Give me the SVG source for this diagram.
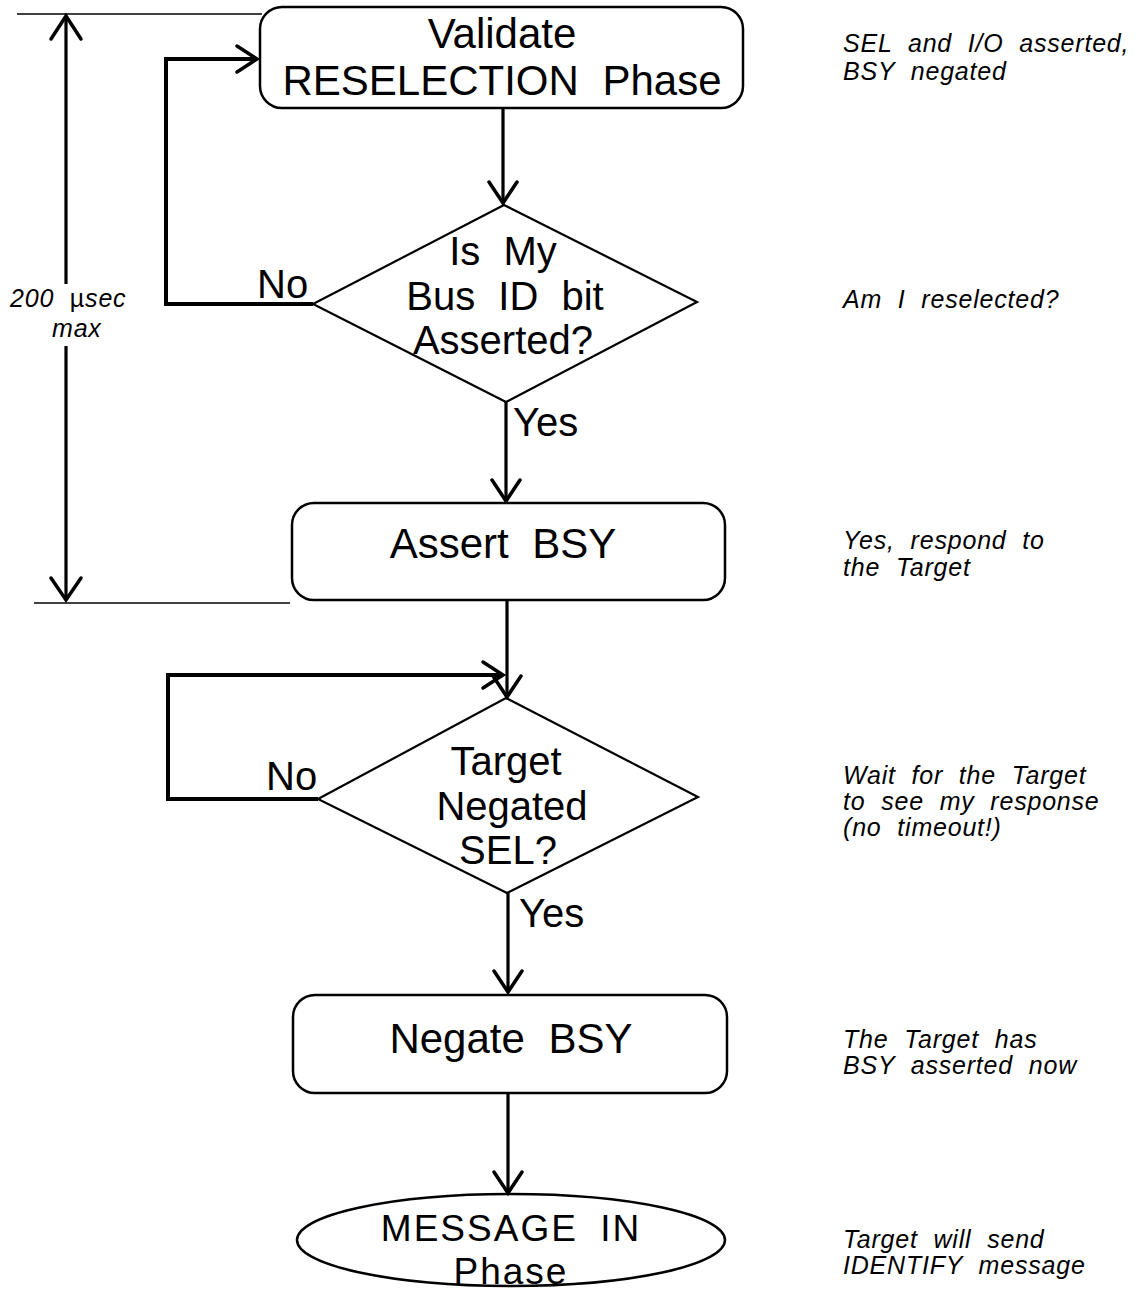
<svg xmlns="http://www.w3.org/2000/svg" width="1139" height="1293" viewBox="0 0 1139 1293">
  <style>
    .bg { fill: #ffffff; }
    .node { fill: #ffffff; stroke: #000; stroke-width: 2.5; }
    .dia { fill: #ffffff; stroke: #000; stroke-width: 2.2; }
    .label { font-family: "Liberation Sans", Arial, sans-serif; font-size: 42px; fill: #000; text-anchor: middle; word-spacing: 12px; }
    .term { font-family: "Liberation Sans", Arial, sans-serif; font-size: 37px; fill: #000; text-anchor: middle; letter-spacing: 2px; word-spacing: 10px; }
    .dlabel { font-family: "Liberation Sans", Arial, sans-serif; font-size: 40px; fill: #000; text-anchor: middle; word-spacing: 12px; }
    .branch { font-family: "Liberation Sans", Arial, sans-serif; font-size: 40px; fill: #000; }
    .note { font-family: "Liberation Sans", Arial, sans-serif; font-size: 25px; font-style: italic; fill: #000; letter-spacing: 0.8px; word-spacing: 8px; }
    .flow { fill: none; stroke: #000; stroke-width: 3.2; }
    .loop { fill: none; stroke: #000; stroke-width: 4; stroke-linejoin: miter; }
    .head { fill: none; stroke: #000; stroke-width: 3.5; stroke-linecap: round; stroke-linejoin: miter; }
    .ext { fill: none; stroke: #000; stroke-width: 1.5; }
  </style>

  <rect class="bg" x="0" y="0" width="1139" height="1293"/>

  <!-- timing dimension: 200 usec max between reselection and BSY -->
  <g id="timing">
    <line class="ext" x1="17" y1="14" x2="262" y2="14"/>
    <line class="ext" x1="34" y1="603" x2="290" y2="603"/>
    <line class="flow" x1="66" y1="16" x2="66" y2="284"/>
    <line class="flow" x1="66" y1="346" x2="66" y2="599"/>
    <polyline class="head" points="51,39 66,16 81,39"/>
    <polyline class="head" points="51,578 66,600 81,578"/>
    <text class="note" x="10" y="307">200 <tspan font-style="normal">µ</tspan>sec</text>
    <text class="note" x="52" y="337">max</text>
  </g>

  <!-- nodes -->
  <g id="validate-reselection">
    <rect class="node" x="260" y="7" width="483" height="101" rx="22" ry="22"/>
    <text class="label" x="502" y="48">Validate</text>
    <text class="label" x="502" y="95">RESELECTION Phase</text>
  </g>

  <g id="bus-id-check">
    <polygon class="dia" points="504,205 697,302 506,402 313,304"/>
    <text class="dlabel" x="503" y="265">Is My</text>
    <text class="dlabel" x="505" y="310">Bus ID bit</text>
    <text class="dlabel" x="503" y="354">Asserted?</text>
  </g>

  <g id="assert-bsy">
    <rect class="node" x="292" y="503" width="433" height="97" rx="22" ry="22"/>
    <text class="label" x="503" y="558">Assert BSY</text>
  </g>

  <g id="sel-negated-check">
    <polygon class="dia" points="506,698 698,797 507,893 318,799"/>
    <text class="dlabel" x="506" y="775">Target</text>
    <text class="dlabel" x="512" y="820">Negated</text>
    <text class="dlabel" x="508" y="864">SEL?</text>
  </g>

  <g id="negate-bsy">
    <rect class="node" x="293" y="995" width="434" height="98" rx="22" ry="22"/>
    <text class="label" x="511" y="1053">Negate BSY</text>
  </g>

  <g id="message-in">
    <ellipse class="node" cx="511" cy="1240" rx="214" ry="46"/>
    <text class="term" x="511" y="1241">MESSAGE IN</text>
    <text class="term" x="511" y="1284">Phase</text>
  </g>

  <!-- connectors -->
  <g id="connectors">
    <!-- main flow -->
    <line class="flow" x1="503" y1="108" x2="503" y2="202"/>
    <polyline class="head" points="489,182 503,203 517,182"/>

    <line class="flow" x1="506" y1="402" x2="506" y2="500"/>
    <polyline class="head" points="492,480 506,501 520,480"/>

    <line class="flow" x1="507" y1="600" x2="507" y2="696"/>
    <polyline class="head" points="493,676 507,697 521,676"/>

    <line class="flow" x1="508" y1="893" x2="508" y2="991"/>
    <polyline class="head" points="494,971 508,992 522,971"/>

    <line class="flow" x1="508" y1="1093" x2="508" y2="1192"/>
    <polyline class="head" points="494,1172 508,1193 522,1172"/>

    <!-- retry loops -->
    <polyline class="loop" points="313,304 166,304 166,59 256,59"/>
    <polyline class="head" points="237,46 257,59 237,72"/>

    <polyline class="loop" points="318,799 168,799 168,675 502,675"/>
    <polyline class="head" points="483,662 503,675 483,688"/>

    <!-- branch labels -->
    <text class="branch" x="257" y="298">No</text>
    <text class="branch" x="513" y="436">Yes</text>
    <text class="branch" x="266" y="790">No</text>
    <text class="branch" x="519" y="927">Yes</text>
  </g>

  <!-- side notes -->
  <g id="notes">
    <text class="note" x="843" y="52">SEL and I/O asserted,</text>
    <text class="note" x="843" y="80">BSY negated</text>
    <text class="note" x="843" y="308">Am I reselected?</text>
    <text class="note" x="843" y="549">Yes, respond to</text>
    <text class="note" x="843" y="576">the Target</text>
    <text class="note" x="843" y="784">Wait for the Target</text>
    <text class="note" x="843" y="810">to see my response</text>
    <text class="note" x="843" y="836">(no timeout!)</text>
    <text class="note" x="843" y="1048">The Target has</text>
    <text class="note" x="843" y="1074">BSY asserted now</text>
    <text class="note" x="843" y="1248">Target will send</text>
    <text class="note" x="843" y="1274">IDENTIFY message</text>
  </g>
</svg>
